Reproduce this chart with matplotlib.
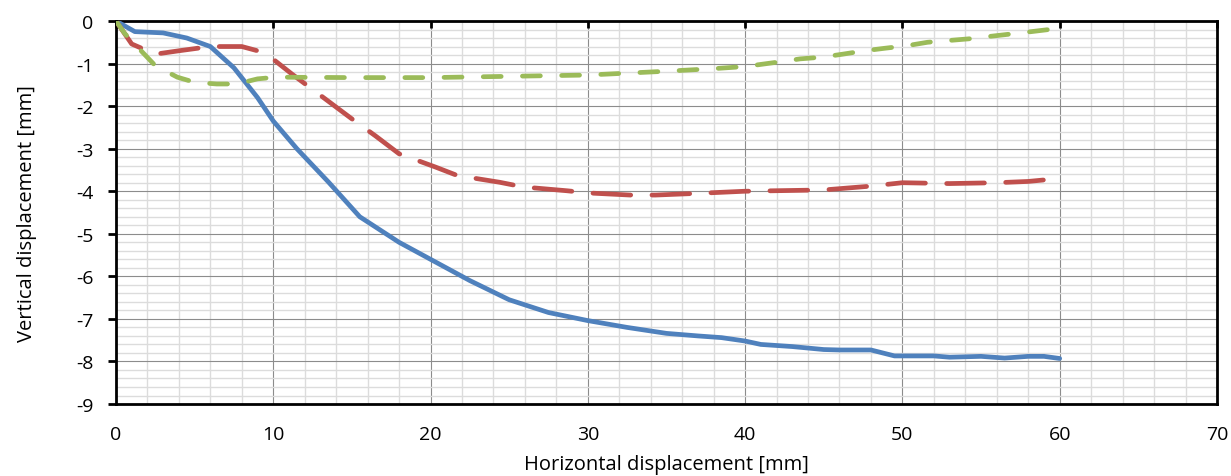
"""Vertical vs horizontal displacement curves (Excel-style line chart)."""

import matplotlib

matplotlib.use("Agg")
import matplotlib.pyplot as plt
from matplotlib.ticker import MultipleLocator

# series 1: solid blue
blue_x = [0, 1.2, 3, 4.5, 6, 7.5, 9, 10, 11.5, 13.5, 15.5, 18, 20, 22.5, 25, 27.5,
          30, 32.5, 35, 37, 38.5, 40, 41, 43, 45, 46, 48, 49.5, 52, 53, 55, 56.5,
          58, 59, 60]
blue_y = [0, -0.25, -0.28, -0.4, -0.6, -1.1, -1.8, -2.35, -3.0, -3.78, -4.6, -5.2,
          -5.6, -6.1, -6.55, -6.85, -7.04, -7.2, -7.34, -7.4, -7.44, -7.52, -7.6,
          -7.65, -7.72, -7.73, -7.73, -7.87, -7.87, -7.9, -7.88, -7.92, -7.88,
          -7.88, -7.93]

# series 2: red long dash
red_x = [0, 1, 2.5, 4, 6, 8, 9, 10, 11.2, 13.3, 15, 16.5, 18, 20.3, 21.7, 24.4,
         25.9, 28.7, 30, 32.7, 34.3, 37, 40, 45, 48, 50, 53, 56, 58, 60]
red_y = [0, -0.54, -0.78, -0.7, -0.6, -0.6, -0.7, -0.9, -1.25, -1.83, -2.3, -2.7,
         -3.12, -3.43, -3.63, -3.79, -3.9, -3.99, -4.04, -4.09, -4.09, -4.05, -4.0,
         -3.97, -3.88, -3.8, -3.82, -3.8, -3.77, -3.7]

# series 3: green short dash
green_x = [0, 0.57, 1.7, 2.5, 3.9, 5, 6.4, 7.7, 9, 10.2, 15, 20, 25, 30, 35, 38,
           40, 42, 43.5, 44.9, 46.2, 47.6, 48.9, 50.3, 51.6, 52.9, 54.2, 55.6,
           56.8, 58.2, 60]
green_y = [0, -0.3, -0.74, -1.05, -1.32, -1.44, -1.48, -1.48, -1.36, -1.32, -1.33,
           -1.33, -1.3, -1.27, -1.18, -1.12, -1.07, -0.97, -0.89, -0.85, -0.78,
           -0.7, -0.64, -0.58, -0.5, -0.46, -0.42, -0.36, -0.31, -0.25, -0.17]

plt.rcParams["font.family"] = ["Open Sans", "DejaVu Sans"]
plt.rcParams["axes.unicode_minus"] = False

fig = plt.figure(figsize=(12.31, 4.77), dpi=100)
ax = fig.add_axes([0.0942, 0.1509, 0.8944, 0.803])

ax.plot(blue_x, blue_y, color="#4F81BD", lw=3.4, solid_capstyle="round",
        solid_joinstyle="round", zorder=3)
ax.plot(red_x, red_y, color="#C0504D", lw=3.4, dashes=(8, 4.5),
        dash_capstyle="round", dash_joinstyle="round", zorder=3)
ax.plot(green_x, green_y, color="#9BBB59", lw=3.4, dashes=(3.8, 4.5),
        dash_capstyle="round", dash_joinstyle="round", zorder=3)

ax.set_xlim(0, 70)
ax.set_ylim(-9, 0)
ax.xaxis.set_major_locator(MultipleLocator(10))
ax.xaxis.set_minor_locator(MultipleLocator(2))
ax.yaxis.set_major_locator(MultipleLocator(1))
ax.yaxis.set_minor_locator(MultipleLocator(0.2))

ax.grid(which="major", color="#8c8c8c", lw=0.8, zorder=1)
ax.grid(which="minor", color="#dcdcdc", lw=1.0, zorder=0)
ax.set_axisbelow(True)

for sp in ax.spines.values():
    sp.set_color("black")
    sp.set_linewidth(2)

ax.tick_params(axis="x", which="major", bottom=False, top=True, direction="in",
               length=5, width=2, pad=15, labelsize=14)
ax.tick_params(axis="x", which="minor", bottom=False, top=False)
ax.tick_params(axis="y", which="major", left=True, direction="out", length=6,
               width=2, pad=10, labelsize=14)
ax.tick_params(axis="y", which="minor", left=False)

ax.set_xlabel("Horizontal displacement [mm]", fontsize=14.5, labelpad=8)
ax.set_ylabel("Vertical displacement [mm]", fontsize=14.5, labelpad=28)

fig.savefig("out.png", dpi=100)
